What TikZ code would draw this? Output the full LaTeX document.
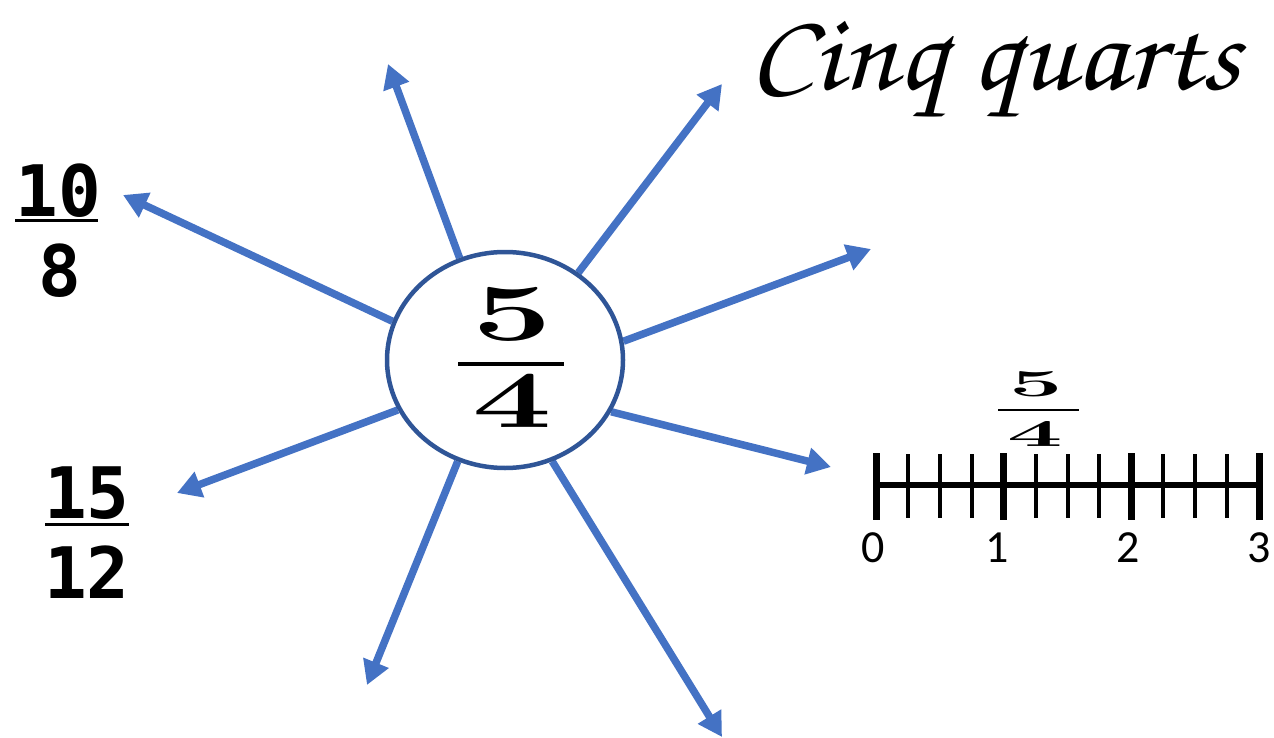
\documentclass[tikz,border=0pt]{standalone}
\usepackage[T1]{fontenc}
\usepackage{fontspec}
\usepackage{graphicx}
\usetikzlibrary{arrows.meta,shapes.geometric,backgrounds}
\newfontfamily\monof{DejaVu Sans Mono}
\newfontfamily\calib{Carlito}
\definecolor{arrblue}{HTML}{4472C4}
\definecolor{ringblue}{HTML}{2F5597}
\begin{document}
\begin{tikzpicture}[x=1pt,y=-1pt,
  arr/.style={draw=arrblue, line width=7.5pt, -{Triangle[length=24pt,width=26pt]}},
  lbl/.style={inner sep=0pt, outer sep=0pt},
  monofrac/.style={lbl, font=\monof\bfseries\fontsize{71}{71}\selectfont},
  axislbl/.style={lbl, font=\calib\fontsize{46}{46}\selectfont},
  bigdigit/.style={lbl, font=\fontsize{81}{81}\selectfont\bfseries},
  smalldigit/.style={lbl, font=\fontsize{38}{38}\selectfont\bfseries},
  minortick/.style={line width=4pt},
  majortick/.style={line width=7pt}]
\useasboundingbox (0,0) rectangle (1274,738);

% central ellipse
\node[ellipse, draw=ringblue, line width=4.5pt, fill=white, minimum width=236pt, minimum height=216pt, inner sep=0pt] (c) at (505,360) {};
\node[bigdigit] (n5) at (512,314) {\scalebox{1.75}[1]{5}};
\node[bigdigit] (d4) at (512,401) {\scalebox{1.75}[1]{4}};
\coordinate (cbarL) at (458,364);
\coordinate (cbarR) at (564,364);
\draw[line width=3.5pt] (cbarL) -- (cbarR);

% arrow tips
\coordinate (t1) at (388,64);
\coordinate (t2) at (722,84);
\coordinate (t3) at (871,249);
\coordinate (t4) at (831,467);
\coordinate (t5) at (722,737);
\coordinate (t6) at (367,685);
\coordinate (t7) at (177,493);
\coordinate (t8) at (123,195);
\begin{scope}[on background layer]
\draw[arr] (c.114.7) -- (t1);
\draw[arr] (c.50.3) -- (t2);
\draw[arr] (c.9.7) -- (t3);
\draw[arr] (c.-26.8) -- (t4);
\draw[arr] (c.-65) -- (t5);
\draw[arr] (c.245.9) -- (t6);
\draw[arr] (c.205) -- (t7);
\draw[arr] (c.161.4) -- (t8);
\end{scope}

% 10/8
\node[monofrac] (a10) at (58.5,191) {10};
\node[monofrac] (a8) at (60,271) {8};
\coordinate (abarL) at (15,221);
\coordinate (abarR) at (98,221);
\draw[line width=3pt] (abarL) -- (abarR);

% 15/12
\node[monofrac] (b15) at (87,493.5) {15};
\node[monofrac] (b12) at (87,572) {12};
\coordinate (bbarL) at (45,524);
\coordinate (bbarR) at (129,524);
\draw[line width=3pt] (bbarL) -- (bbarR);

% Cinq quarts
\node[lbl] (cq) at (995,72) {\resizebox*{490pt}{102pt}{\usefont{T1}{pzc}{mb}{it}Cinq quarts}};

% number line
\node[smalldigit] (s5) at (1036,384.5) {\scalebox{2.5}[1]{5}};
\node[smalldigit] (s4) at (1035.5,434) {\scalebox{2.6}[1]{4}};
\coordinate (sbarL) at (998,410);
\coordinate (sbarR) at (1079,410);
\draw[line width=2.5pt] (sbarL) -- (sbarR);

\coordinate (nl0) at (876,485);
\coordinate (nl3) at (1259,485);
\draw[line width=5.5pt] (nl0) -- (nl3);
\foreach \i in {0,...,12}{
  \pgfmathsetmacro{\xx}{876+\i*31.92}
  \pgfmathtruncatemacro{\mm}{mod(\i,4)}
  \ifnum\mm=0
    \draw[majortick] (\xx,453) -- (\xx,520);
  \else
    \draw[minortick] (\xx,454) -- (\xx,518);
  \fi
}
\node[axislbl] (l0) at (873,547.5) {0};
\node[axislbl] (l1) at (997,547.5) {1};
\node[axislbl] (l2) at (1128,547.5) {2};
\node[axislbl] (l3) at (1259,547.5) {3};
\end{tikzpicture}
\end{document}
